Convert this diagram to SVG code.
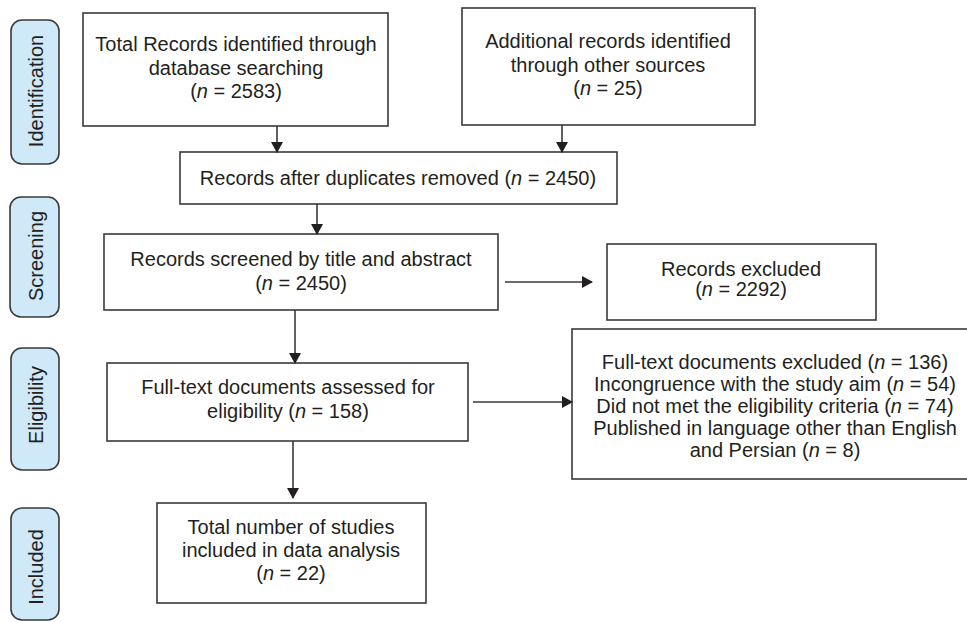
<svg xmlns="http://www.w3.org/2000/svg" width="967" height="622" viewBox="0 0 967 622">
<style>
text{font-family:"Liberation Sans",Arial,sans-serif;font-size:20px;fill:#231f20;text-anchor:middle}
.box{fill:#fff;stroke:#3a3a3a;stroke-width:1.6}
.stage{fill:#cfe9f8;stroke:#3a3a3a;stroke-width:1.6}
.conn{stroke:#3a3a3a;stroke-width:1.6;fill:none;marker-end:url(#ah)}
.i{font-style:italic}
</style>
<defs>
<marker id="ah" markerUnits="userSpaceOnUse" markerWidth="11" markerHeight="12" refX="10" refY="6" orient="auto">
<path d="M0,0 L11,6 L0,12 z" fill="#231f20"/>
</marker>
</defs>
<rect width="967" height="622" fill="#fff"/>
<g id="stage-identification">
<rect class="stage" x="11" y="20" width="48" height="144" rx="11"/>
<text transform="translate(43,91) rotate(-90)">Identification</text>
</g>
<g id="stage-screening">
<rect class="stage" x="10" y="197" width="49" height="120" rx="11"/>
<text transform="translate(43,256) rotate(-90)">Screening</text>
</g>
<g id="stage-eligibility">
<rect class="stage" x="11" y="348" width="48" height="122" rx="11"/>
<text transform="translate(43,405) rotate(-90)">Eligibility</text>
</g>
<g id="stage-included">
<rect class="stage" x="11" y="508" width="48" height="112" rx="11"/>
<text transform="translate(43,567) rotate(-90)">Included</text>
</g>
<g id="n1">
<rect class="box" x="83" y="13" width="305" height="113"/>
<text x="236" y="51">Total Records identified through</text>
<text x="236" y="75">database searching</text>
<text x="236" y="98">(<tspan class="i">n</tspan> = 2583)</text>
</g>
<g id="n2">
<rect class="box" x="462" y="8" width="293" height="117"/>
<text x="608" y="48">Additional records identified</text>
<text x="608" y="72">through other sources</text>
<text x="608" y="95">(<tspan class="i">n</tspan> = 25)</text>
</g>
<g id="n3">
<rect class="box" x="180" y="152" width="437" height="52"/>
<text x="398" y="185">Records after duplicates removed (<tspan class="i">n</tspan> = 2450)</text>
</g>
<g id="n4">
<rect class="box" x="104" y="234" width="394" height="76"/>
<text x="301" y="266">Records screened by title and abstract</text>
<text x="301" y="290">(<tspan class="i">n</tspan> = 2450)</text>
</g>
<g id="n5">
<rect class="box" x="607" y="244" width="269" height="76"/>
<text x="741" y="276">Records excluded</text>
<text x="741" y="296">(<tspan class="i">n</tspan> = 2292)</text>
</g>
<g id="n6">
<rect class="box" x="107" y="363" width="361" height="78"/>
<text x="288" y="394">Full-text documents assessed for</text>
<text x="288" y="418">eligibility (<tspan class="i">n</tspan> = 158)</text>
</g>
<g id="n7">
<rect class="box" x="572" y="329" width="410" height="150"/>
<text x="775" y="369">Full-text documents excluded (<tspan class="i">n</tspan> = 136)</text>
<text x="775" y="391">Incongruence with the study aim (<tspan class="i">n</tspan> = 54)</text>
<text x="775" y="413">Did not met the eligibility criteria (<tspan class="i">n</tspan> = 74)</text>
<text x="775" y="435">Published in language other than English</text>
<text x="775" y="457">and Persian (<tspan class="i">n</tspan> = 8)</text>
</g>
<g id="n8">
<rect class="box" x="157" y="503" width="269" height="100"/>
<text x="291" y="534">Total number of studies</text>
<text x="291" y="557">included in data analysis</text>
<text x="291" y="580">(<tspan class="i">n</tspan> = 22)</text>
</g>
<g id="connectors">
<line class="conn" x1="277" y1="126" x2="277" y2="152"/>
<line class="conn" x1="562" y1="125" x2="562" y2="152"/>
<line class="conn" x1="317" y1="204" x2="317" y2="234"/>
<line class="conn" x1="505" y1="282" x2="592" y2="282"/>
<line class="conn" x1="295" y1="310" x2="295" y2="363"/>
<line class="conn" x1="473" y1="402" x2="572" y2="402"/>
<line class="conn" x1="293" y1="441" x2="293" y2="498"/>
</g>
</svg>
